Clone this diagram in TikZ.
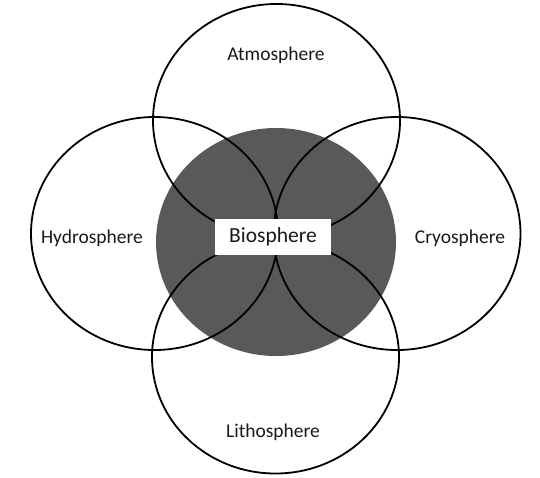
\documentclass[tikz,border=0pt]{standalone}
\usepackage{fontspec}
\setmainfont{Carlito}
\usetikzlibrary{shapes.geometric}
\begin{document}
\begin{tikzpicture}[x=1pt,y=-1pt,
  sphere/.style={ellipse,draw=black,line width=1.8pt,minimum width=247pt,minimum height=233pt,inner sep=0pt},
  lbl/.style={font=\fontsize{19.5}{21}\selectfont,text=black!90},
  bio/.style={ellipse,fill=black!65,minimum width=240pt,minimum height=228pt,inner sep=0pt},
  biobox/.style={fill=white,minimum width=116pt,minimum height=36pt,inner sep=0pt,font=\fontsize{21.5}{24}\selectfont,text=black!90}]
\useasboundingbox (0,0) rectangle (540,477);
\node[bio] (bio) at (276,242) {};
\node[sphere] (atm) at (276.5,120.5) {};
\node[sphere] (hyd) at (154.5,233.5) {};
\node[sphere] (cry) at (397,233.5) {};
\node[sphere] (lit) at (275.5,357) {};
\node[lbl] (atml) at (276,55) {Atmosphere};
\node[lbl] (hydl) at (92,238) {Hydrosphere};
\node[lbl] (cryl) at (460,238) {Cryosphere};
\node[lbl] (litl) at (273,432) {Lithosphere};
\node[biobox] (biol) at (273,237) {Biosphere};
\end{tikzpicture}
\end{document}
